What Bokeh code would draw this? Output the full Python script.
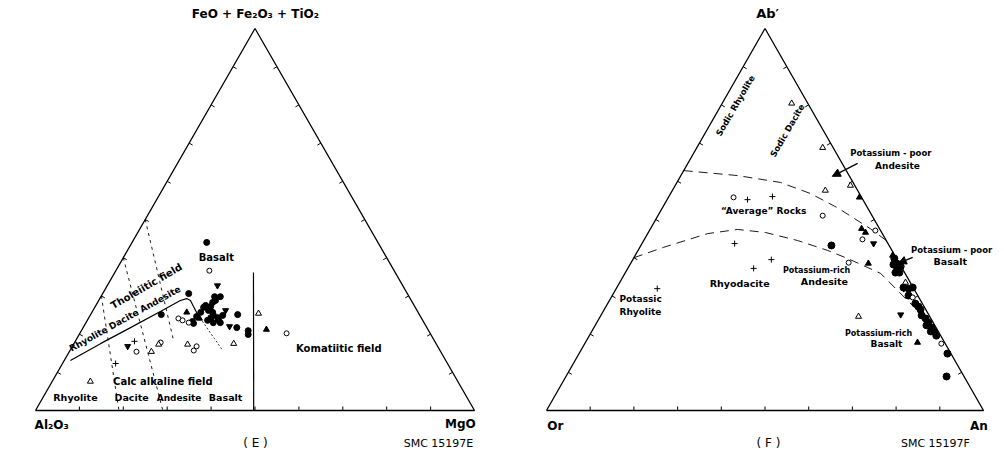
import math
from bokeh.plotting import figure
from bokeh.layouts import row
from bokeh.models import Arrow, NormalHead
from bokeh.core.properties import value
from bokeh.embed import file_html
from bokeh.resources import INLINE

LABEL_FONT = "DejaVu Sans"
VERTEX_FONT = "DejaVu Sans"

# ---------------- Diagram E: Al2O3 - (FeO+Fe2O3+TiO2) - MgO (percent) ----------------
e_fill_circle_fe = [44.0, 25.1, 30.6, 29.8, 28.8, 28.3, 27.2, 27.0, 26.2, 25.7, 24.9, 24.3, 24.9, 24.3,
                    23.6, 25.7, 23.0, 23.6, 22.8, 23.3, 25.1, 21.7, 20.9, 19.9, 27.5, 24.6, 29.8, 23.0]
e_fill_circle_mg = [17.0, 16.1, 19.6, 27.2, 26.6, 26.2, 26.3, 24.8, 26.3, 27.5, 28.1, 29.4, 30.2, 27.8,
                    27.4, 24.8, 29.0, 29.9, 24.6, 24.1, 33.5, 35.0, 38.0, 38.5, 25.0, 24.4, 25.9, 30.6]
e_inv_tri_fe = [32.7, 26.2, 22.0, 16.8]
e_inv_tri_mg = [25.1, 30.2, 33.2, 12.6]
e_fill_tri_fe = [25.7, 21.2, 24.1]
e_fill_tri_mg = [21.6, 42.0, 25.3]
e_open_circle_fe = [36.6, 24.1, 23.6, 23.0, 20.2, 15.4, 17.8, 15.7, 16.8]
e_open_circle_mg = [21.3, 20.5, 21.7, 23.4, 47.1, 15.3, 19.6, 28.2, 28.3]
e_open_tri_fe = [25.4, 17.5, 17.3, 15.4, 17.3, 7.6]
e_open_tri_mg = [38.1, 36.4, 26.0, 18.7, 19.4, 8.7]
e_plus_fe = [18.1, 12.3]
e_plus_mg = [13.5, 12.1]

# field boundaries (FeOt %, MgO %)
e_boundary_fe = [13.1, 17.5, 21.7, 25.9, 28.8, 29.3, 28.8, 27.2, 25.1]
e_boundary_mg = [1.4, 6.05, 10.8, 15.5, 18.6, 19.8, 20.9, 22.4, 24.4]
e_boundary_tail_fe = [25.1, 15.7]
e_boundary_tail_mg = [24.4, 34.8]
e_komatiite_fe = [36.1, 0.0]
e_komatiite_mg = [31.6, 49.7]
e_rock_divides_fe = [[30.0, 0.0], [40.0, 0.0], [50.0, 18.3]]
e_rock_divides_mg = [[0.0, 19.0], [0.0, 29.0], [0.0, 22.3]]

# ---------------- Diagram F: Or - Ab' - An (percent) ----------------
f_open_tri_ab = [68.8, 58.9, 57.6, 80.4, 33.5, 24.6]
f_open_tri_an = [28.8, 40.1, 35.0, 15.9, 65.4, 59.1]
f_fill_tri_ab = [55.8, 47.6, 46.6, 38.5, 40.6, 17.8]
f_fill_tri_an = [43.7, 48.3, 49.7, 54.4, 58.9, 76.0]
f_inv_tri_ab = [43.7, 31.9, 25.1]
f_inv_tri_an = [53.0, 65.8, 68.5]
f_open_circle_ab = [55.8, 51.0, 47.1, 44.8, 38.7, 29.6, 17.5]
f_open_circle_an = [14.9, 37.7, 51.7, 49.9, 49.8, 69.0, 81.6]
f_fill_circle_ab = [43.2, 8.9, 14.9, 32.2, 31.9, 32.2, 30.1, 28.0, 27.2, 26.4, 39.8, 38.5, 37.2,
                    36.1, 36.1, 37.7, 38.2, 24.1, 23.0, 21.7, 20.7, 19.6, 20.7, 22.3, 24.9]
f_fill_circle_an = [43.6, 87.1, 84.3, 65.6, 66.9, 67.7, 67.8, 70.4, 71.5, 72.4, 59.7, 60.9, 61.7,
                    61.8, 62.7, 62.2, 60.3, 74.7, 75.9, 77.3, 78.4, 79.4, 77.6, 75.8, 73.4]
f_plus_ab = [55.2, 56.0, 43.7, 39.5, 37.2, 31.9]
f_plus_an = [18.4, 23.7, 21.2, 31.7, 28.8, 9.4]

f_upper_ab = [62.8, 61.5, 59.7, 56.8, 53.1, 47.6, 44.5]
f_upper_an = [0.0, 13.0, 23.7, 32.0, 40.0, 50.3, 55.5]
f_lower_ab = [40.0, 42.7, 46.3, 47.4, 46.6, 44.5, 41.9, 39.8, 35.9, 27.5, 23.6]
f_lower_an = [0.0, 5.4, 13.7, 20.0, 26.8, 35.2, 43.4, 49.0, 58.5, 70.0, 76.1]


def to_xy(top, right):
    """Ternary (apex %, right-corner %) -> cartesian (base fraction, height fraction)."""
    xs = [(r + t / 2.0) / 100.0 for t, r in zip(top, right)]
    ys = [t / 100.0 for t in top]
    return xs, ys


W, H = 502, 461
SIDE_H = 382.0   # triangle height in px
BASE_Y = 410.0   # base line measured from the top of the page


def make_fig(left_px, side_px):
    p = figure(width=W, height=H,
               x_range=(-left_px / side_px, (W - left_px) / side_px),
               y_range=(-(H - BASE_Y) / SIDE_H, BASE_Y / SIDE_H),
               x_axis_type=None, y_axis_type=None,
               toolbar_location=None, output_backend="svg",
               min_border=0, outline_line_color=None,
               background_fill_color="white", border_fill_color="white")
    p.min_border_left = p.min_border_right = 0
    p.min_border_top = p.min_border_bottom = 0
    # triangle frame
    fx, fy = to_xy([0, 0, 100, 0], [0, 100, 0, 0])
    p.line(fx, fy, line_color="black", line_width=1.3)
    # 10 % ticks pointing inward
    tl = 4.0
    sides = [((0, 0), (1, 0), (0.0, 1.0)),
             ((0, 0), (0.5, 1), (0.867, -0.498)),
             ((1, 0), (0.5, 1), (-0.867, -0.498))]
    xs0, ys0 = [], []
    for (ax, ay), (bx, by), (nx, ny) in sides:
        for k in range(1, 10):
            t = k / 10.0
            px = ax + (bx - ax) * t
            py = ay + (by - ay) * t
            xs0.append([px, px + nx * tl / side_px])
            ys0.append([py, py + ny * tl / SIDE_H])
    p.multi_line(xs0, ys0, line_color="black", line_width=1)
    return p


def add_text(p, x, y, text, size, angle=0.0, align="center", bold=True, font=LABEL_FONT):
    p.text(x=[x], y=[y], text=[text], angle=math.radians(angle),
           text_font=value(font), text_font_size=f"{size}px",
           text_font_style="bold" if bold else "normal",
           text_align=align, text_baseline="middle", text_color="black")


def plot_points(p, top, right, marker, filled, size):
    x, y = to_xy(top, right)
    p.scatter(x, y, marker=marker, size=size,
              fill_color="black" if filled else "white",
              line_color="black", line_width=1)


# ---------------- left panel ----------------
pE = make_fig(35.0, 439.0)

x, y = to_xy(e_boundary_fe, e_boundary_mg)
pE.line(x, y, line_color="black", line_width=1.2)
x, y = to_xy(e_boundary_tail_fe, e_boundary_tail_mg)
pE.line(x, y, line_color="black", line_width=0.8, line_dash="2 2")
x, y = to_xy(e_komatiite_fe, e_komatiite_mg)
pE.line(x, y, line_color="black", line_width=1.2)
for fe, mg in zip(e_rock_divides_fe, e_rock_divides_mg):
    x, y = to_xy(fe, mg)
    pE.line(x, y, line_color="black", line_width=0.9, line_dash="3 4")

plot_points(pE, e_fill_circle_fe, e_fill_circle_mg, "circle", True, 6)
plot_points(pE, e_inv_tri_fe, e_inv_tri_mg, "inverted_triangle", True, 6)
plot_points(pE, e_fill_tri_fe, e_fill_tri_mg, "triangle", True, 6)
plot_points(pE, e_open_circle_fe, e_open_circle_mg, "circle", False, 5)
plot_points(pE, e_open_tri_fe, e_open_tri_mg, "triangle", False, 6)
plot_points(pE, e_plus_fe, e_plus_mg, "cross", False, 6)

add_text(pE, 0.501, 1.038, "FeO + Fe\u2082O\u2083 + TiO\u2082", 12, font=VERTEX_FONT)
add_text(pE, -0.002, -0.037, "Al\u2082O\u2083", 12, align="left", font=VERTEX_FONT)
add_text(pE, 1.003, -0.035, "MgO", 12, align="right", font=VERTEX_FONT)
add_text(pE, 0.501, -0.084, "( E )", 12, bold=False)
add_text(pE, 0.918, -0.086, "SMC 15197E", 11, bold=False)

add_text(pE, 0.412, 0.400, "Basalt", 10)
add_text(pE, 0.256, 0.328, "Tholeiitic  field", 10, angle=30)
add_text(pE, 0.210, 0.244, "Rhyolite  Dacite  Andesite", 9, angle=29)
add_text(pE, 0.695, 0.162, "Komatiitic  field", 10)
add_text(pE, 0.298, 0.076, "Calc  alkaline  field", 10)
add_text(pE, 0.091, 0.034, "Rhyolite", 9.5)
add_text(pE, 0.219, 0.034, "Dacite", 9.5)
add_text(pE, 0.327, 0.034, "Andesite", 9)
add_text(pE, 0.433, 0.034, "Basalt", 9.5)

# ---------------- right panel ----------------
pF = make_fig(44.0, 437.0)

x, y = to_xy(f_upper_ab, f_upper_an)
pF.line(x, y, line_color="black", line_width=0.9, line_dash="9 6")
x, y = to_xy(f_lower_ab, f_lower_an)
pF.line(x, y, line_color="black", line_width=0.9, line_dash="9 6")

plot_points(pF, f_fill_circle_ab, f_fill_circle_an, "circle", True, 7)
plot_points(pF, f_inv_tri_ab, f_inv_tri_an, "inverted_triangle", True, 6)
plot_points(pF, f_fill_tri_ab, f_fill_tri_an, "triangle", True, 6)
plot_points(pF, f_open_circle_ab, f_open_circle_an, "circle", False, 5)
plot_points(pF, f_open_tri_ab, f_open_tri_an, "triangle", False, 6)
plot_points(pF, f_plus_ab, f_plus_an, "cross", False, 6)

add_text(pF, 0.506, 1.038, "Ab\u2032", 13, font=VERTEX_FONT)
add_text(pF, 0.002, -0.040, "Or", 12, align="left", font=VERTEX_FONT)
add_text(pF, 1.010, -0.040, "An", 12, align="right", font=VERTEX_FONT)
add_text(pF, 0.508, -0.084, "( F )", 12, bold=False)
add_text(pF, 0.890, -0.086, "SMC 15197F", 11, bold=False)

add_text(pF, 0.432, 0.798, "Sodic Rhyolite", 8.5, angle=60)
add_text(pF, 0.551, 0.733, "Sodic Dacite", 8.5, angle=60)
add_text(pF, 0.788, 0.673, "Potassium - poor", 8.5)
add_text(pF, 0.803, 0.641, "Andesite", 9)
add_text(pF, 0.927, 0.421, "Potassium - poor", 8.5)
add_text(pF, 0.924, 0.390, "Basalt", 9.5)
add_text(pF, 0.497, 0.521, "\u201cAverage\u201d Rocks", 9)
add_text(pF, 0.618, 0.366, "Potassium-rich", 8)
add_text(pF, 0.636, 0.338, "Andesite", 9.5)
add_text(pF, 0.442, 0.332, "Rhyodacite", 9.5)
add_text(pF, 0.167, 0.293, "Potassic", 9, align="left")
add_text(pF, 0.167, 0.257, "Rhyolite", 9, align="left")
add_text(pF, 0.760, 0.202, "Potassium-rich", 8)
add_text(pF, 0.778, 0.173, "Basalt", 9)

for xs_, ys_, xe_, ye_ in [(0.712, 0.647, 0.654, 0.613), (0.838, 0.401, 0.805, 0.385)]:
    pF.add_layout(Arrow(end=NormalHead(size=8, fill_color="black", line_color="black"),
                        x_start=xs_, y_start=ys_, x_end=xe_, y_end=ye_,
                        line_color="black", line_width=1.3))

layout = row(pE, pF, spacing=0)
open("out.html", "w").write(file_html(layout, INLINE))
